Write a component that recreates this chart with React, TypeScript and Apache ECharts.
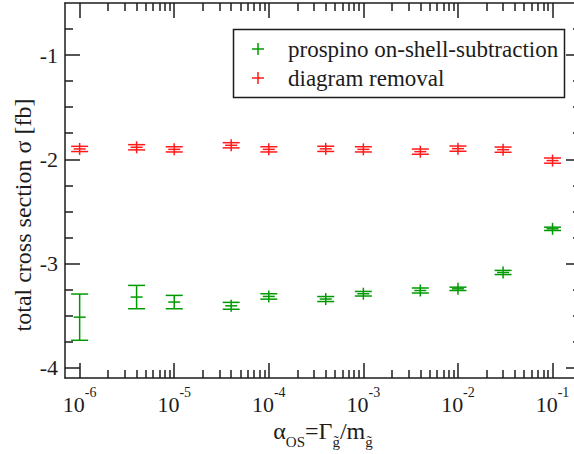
import React, { useEffect, useRef } from "react";
import * as echarts from "echarts";

// Width parameter alpha_OS = Gamma / m (log scale)
const ALPHA_OS = [1e-6, 4e-6, 1e-5, 4e-5, 1e-4, 4e-4, 1e-3, 4e-3, 1e-2, 3e-2, 1e-1];

// prospino on-shell-subtraction: total cross section and its error
const PROSPINO = [-3.516, -3.323, -3.371, -3.407, -3.317, -3.342, -3.291, -3.26, -3.244, -3.087, -2.668];
const PROSPINO_ERR = [0.222, 0.112, 0.064, 0.033, 0.026, 0.024, 0.022, 0.024, 0.016, 0.02, 0.016];

// diagram removal: total cross section and its error
const REMOVAL = [-1.901, -1.885, -1.905, -1.866, -1.905, -1.9, -1.905, -1.927, -1.898, -1.908, -2.013];
const REMOVAL_ERR = [0.025, 0.025, 0.025, 0.025, 0.025, 0.025, 0.025, 0.025, 0.025, 0.025, 0.025];

// Axis ranges and ticks
const X_MIN = 7e-7;
const X_MAX = 0.2;
const X_EXPONENTS = [-6, -5, -4, -3, -2, -1];
const Y_MIN = -4.1;
const Y_MAX = -0.5;
const Y_TICKS = [-4, -3, -2, -1];
const Y_MINOR_STEP = 0.25;

const SERIES_NAMES = ["prospino on-shell-subtraction", "diagram removal"];
const GREEN = "#009a00";
const RED = "#ff1a1a";
const INK = "#1c1c1c";
const FONT = "Liberation Serif";

const lg = (v: number) => Math.log10(v);

// log-decade minor ticks (2..9 × 10^n) inside the range
const xMinor: number[] = [];
for (let n = -7; n <= -1; n++) {
  for (let k = 2; k <= 9; k++) {
    const v = k * Math.pow(10, n);
    if (v >= 1.5e-6 && v < X_MAX) xMinor.push(lg(v));
  }
}
const yMinor: number[] = [];
for (let v = -4; v < Y_MAX - 1e-9; v += Y_MINOR_STEP) {
  const r = Math.round(v * 100) / 100;
  if (!Y_TICKS.includes(r)) yMinor.push(r);
}

function errorBarSeries(name: string, ys: number[], errs: number[], color: string) {
  return {
    type: "custom",
    name,
    xAxisIndex: 0,
    yAxisIndex: 0,
    data: ALPHA_OS.map((x, i) => [lg(x), ys[i], errs[i]]),
    encode: { x: 0, y: 1 },
    renderItem: (_params: any, api: any) => {
      const x = api.value(0);
      const y = api.value(1);
      const e = api.value(2);
      const c = api.coord([x, y]);
      const hi = api.coord([x, y + e]);
      const lo = api.coord([x, y - e]);
      const style = { stroke: color, lineWidth: 1.5, fill: "none" };
      const cap = 8.5;
      const arm = 6;
      const top = Math.min(hi[1], c[1] - arm);
      const bot = Math.max(lo[1], c[1] + arm);
      return {
        type: "group",
        children: [
          { type: "line", shape: { x1: c[0], y1: top, x2: c[0], y2: bot }, style },
          { type: "line", shape: { x1: c[0] - cap, y1: hi[1], x2: c[0] + cap, y2: hi[1] }, style },
          { type: "line", shape: { x1: c[0] - cap, y1: lo[1], x2: c[0] + cap, y2: lo[1] }, style },
          { type: "line", shape: { x1: c[0] - arm, y1: c[1], x2: c[0] + arm, y2: c[1] }, style },
        ],
      };
    },
  };
}

function xAxis(position: "bottom" | "top", values: number[], len: number, labels: boolean, line: boolean) {
  return {
    type: "value",
    position,
    min: lg(X_MIN),
    max: lg(X_MAX),
    axisLine: { show: line, onZero: false, lineStyle: { color: INK, width: 1.5 } },
    axisTick: { show: true, inside: true, length: len, customValues: values, lineStyle: { color: INK, width: 1.5 } },
    axisLabel: labels
      ? {
          show: true,
          customValues: values,
          margin: 7,
          formatter: (v: number) => `{b|10}{s|${Math.round(v)}}`,
          rich: {
            b: { fontFamily: FONT, fontSize: 22, color: INK, lineHeight: 30, verticalAlign: "bottom" },
            s: { fontFamily: FONT, fontSize: 14, color: INK, lineHeight: 14, verticalAlign: "top" },
          },
        }
      : { show: false },
    splitLine: { show: false },
  };
}

function yAxis(position: "left" | "right", values: number[], len: number, labels: boolean, line: boolean) {
  return {
    type: "value",
    position,
    min: Y_MIN,
    max: Y_MAX,
    axisLine: { show: line, onZero: false, lineStyle: { color: INK, width: 1.5 } },
    axisTick: { show: true, inside: true, length: len, customValues: values, lineStyle: { color: INK, width: 1.5 } },
    axisLabel: labels
      ? {
          show: true,
          customValues: values,
          margin: 7,
          fontFamily: FONT,
          fontSize: 22,
          color: INK,
          formatter: (v: number) => String(v),
        }
      : { show: false },
    splitLine: { show: false },
  };
}

export default function App() {
  const ref = useRef<HTMLDivElement>(null);

  useEffect(() => {
    if (!ref.current) return;
    const chart = echarts.init(ref.current, null, { renderer: "svg" });
    const majorX = X_EXPONENTS.map((n) => n);

    const legendText = (y: number, text: string) => ({
      type: "text",
      x: 288,
      y,
      z: 110,
      style: { text, fontFamily: FONT, fontSize: 23, fill: INK, verticalAlign: "middle", align: "left" },
    });
    const legendPlus = (y: number, color: string) => [
      { type: "line", z: 110, shape: { x1: 252, y1: y, x2: 264, y2: y }, style: { stroke: color, lineWidth: 1.5 } },
      { type: "line", z: 110, shape: { x1: 258, y1: y - 6, x2: 258, y2: y + 6 }, style: { stroke: color, lineWidth: 1.5 } },
    ];

    chart.setOption({
      animation: false,
      backgroundColor: "#ffffff",
      grid: { left: 65, top: 3, width: 516, height: 375, containLabel: false, outerBoundsMode: "none" },
      xAxis: [
        xAxis("bottom", majorX, 15, true, true),
        xAxis("bottom", xMinor, 8, false, false),
        xAxis("top", majorX, 15, false, true),
        xAxis("top", xMinor, 8, false, false),
      ],
      yAxis: [
        yAxis("left", Y_TICKS, 15, true, true),
        yAxis("left", yMinor, 8, false, false),
        yAxis("right", Y_TICKS, 15, false, true),
        yAxis("right", yMinor, 8, false, false),
      ],
      series: [
        errorBarSeries(SERIES_NAMES[0], PROSPINO, PROSPINO_ERR, GREEN),
        errorBarSeries(SERIES_NAMES[1], REMOVAL, REMOVAL_ERR, RED),
      ],
      graphic: [
        {
          type: "rect",
          z: 100,
          shape: { x: 233.5, y: 29.5, width: 331, height: 68 },
          style: { fill: "#ffffff", stroke: INK, lineWidth: 1.5 },
        },
        ...legendPlus(49, GREEN),
        legendText(49, SERIES_NAMES[0]),
        ...legendPlus(78, RED),
        legendText(78, SERIES_NAMES[1]),
        {
          type: "text",
          x: 23,
          y: 215,
          rotation: Math.PI / 2,
          style: {
            text: "total cross section σ [fb]",
            fontFamily: FONT,
            fontSize: 24,
            fill: INK,
            align: "center",
            verticalAlign: "middle",
          },
        },
        {
          type: "text",
          x: 323,
          y: 434,
          style: {
            text: "{a|α}{sub|OS}{a|=Γ}{sub|g̃}{a|/m}{sub|g̃}",
            align: "center",
            verticalAlign: "middle",
            rich: {
              a: { fontFamily: FONT, fontSize: 24, fill: INK, lineHeight: 30, verticalAlign: "top" },
              sub: { fontFamily: FONT, fontSize: 15, fill: INK, lineHeight: 15, verticalAlign: "bottom" },
            },
          },
        },
      ],
    });
    return () => chart.dispose();
  }, []);

  return (
    <div
      ref={ref}
      style={{ position: "fixed", left: 0, top: 0, width: 574, height: 454, background: "#fff" }}
    />
  );
}
